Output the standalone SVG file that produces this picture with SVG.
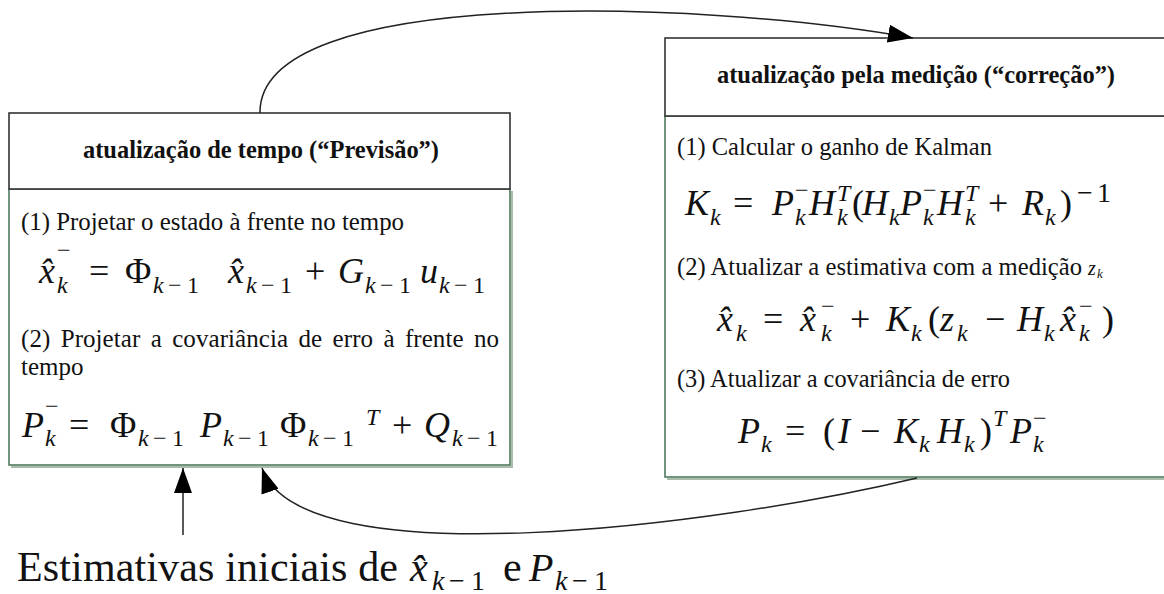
<svg xmlns="http://www.w3.org/2000/svg" width="1164" height="594" viewBox="0 0 1164 594">
<defs>
<style>
.t{font-family:"Liberation Serif","Times New Roman",serif;font-size:25px;fill:#111}
.h{font-weight:bold;font-size:26px}
.m{font-family:"Liberation Serif","Times New Roman",serif;font-size:36px;font-style:italic;fill:#111}
.r{font-style:normal}
.s{font-size:24px}
.hd{fill:#fff;stroke:#333;stroke-width:1.6}
.bd{fill:#fff;stroke:#4f7a5c;stroke-width:1.6}
.sh{fill:none;stroke:#a9bcad;stroke-width:2}
.c{fill:none;stroke:#222;stroke-width:1.5}
</style>
<marker id="ah" markerUnits="userSpaceOnUse" markerWidth="26" markerHeight="18" refX="25" refY="9" orient="auto">
<path d="M0,0 L25,9 L0,18 z" fill="#000"/>
</marker>
</defs>
<rect width="1164" height="594" fill="#fff"/>

<g id="node-previsao">
<path class="sh" d="M11,467 H512 V191"/>
<rect class="bd" x="9" y="189" width="501" height="276"/>
<rect class="hd" x="9" y="113" width="501" height="76"/>
<text class="t h" x="83" y="158" textLength="356" lengthAdjust="spacingAndGlyphs">atualização de tempo (“Previsão”)</text>
<text class="t" x="21" y="230" textLength="383" lengthAdjust="spacingAndGlyphs">(1) Projetar o estado à frente no tempo</text>
<text class="m">
<tspan x="39" y="283">x̂</tspan><tspan class="r s" x="57" y="258">−</tspan><tspan class="s" x="57" y="293">k</tspan>
<tspan class="r" x="89" y="283">=</tspan>
<tspan class="r" x="125" y="283">Φ</tspan><tspan class="s" x="153 168 187" y="293">k<tspan class="r">−1</tspan></tspan>
<tspan x="228" y="283">x̂</tspan><tspan class="s" x="246 261 280" y="293">k<tspan class="r">−1</tspan></tspan>
<tspan class="r" x="305" y="283">+</tspan>
<tspan x="338" y="283">G</tspan><tspan class="s" x="365 380 399" y="293">k<tspan class="r">−1</tspan></tspan>
<tspan x="420" y="283">u</tspan><tspan class="s" x="439 454 473" y="293">k<tspan class="r">−1</tspan></tspan>
</text>
<text class="t" x="21" y="347" textLength="478" lengthAdjust="spacing" style="word-spacing:4px">(2) Projetar a covariância de erro à frente no</text>
<text class="t" x="21" y="375">tempo</text>
<text class="m">
<tspan x="22" y="437">P</tspan><tspan class="r s" x="45" y="414">−</tspan><tspan class="s" x="45" y="446">k</tspan>
<tspan class="r" x="69" y="437">=</tspan>
<tspan class="r" x="110" y="437">Φ</tspan><tspan class="s" x="138 153 172" y="446">k<tspan class="r">−1</tspan></tspan>
<tspan x="200" y="437">P</tspan><tspan class="s" x="223 238 257" y="446">k<tspan class="r">−1</tspan></tspan>
<tspan class="r" x="280" y="437">Φ</tspan><tspan class="s" x="308 323 342" y="446">k<tspan class="r">−1</tspan></tspan>
<tspan class="s" x="366" y="425">T</tspan>
<tspan class="r" x="392" y="437">+</tspan>
<tspan x="424" y="437">Q</tspan><tspan class="s" x="452 467 486" y="446">k<tspan class="r">−1</tspan></tspan>
</text>
</g>

<g id="node-correcao">
<path class="sh" d="M667,479 H1164"/>
<rect class="bd" x="665" y="116" width="520" height="361"/>
<rect class="hd" x="665" y="38" width="520" height="78"/>
<text class="t h" x="717" y="83" textLength="398" lengthAdjust="spacingAndGlyphs">atualização pela medição (“correção”)</text>
<text class="t" x="677" y="155" textLength="315" lengthAdjust="spacingAndGlyphs">(1) Calcular o ganho de Kalman</text>
<text class="m">
<tspan x="685" y="215">K</tspan><tspan class="s" x="710" y="225">k</tspan>
<tspan class="r" x="733" y="215">=</tspan>
<tspan x="772" y="215">P</tspan><tspan class="r s" x="795" y="198">−</tspan><tspan class="s" x="795" y="225">k</tspan>
<tspan x="809" y="215">H</tspan><tspan class="s" x="837" y="201">T</tspan><tspan class="s" x="837" y="225">k</tspan>
<tspan class="r" x="852" y="215">(</tspan>
<tspan x="862" y="215">H</tspan><tspan class="s" x="889" y="225">k</tspan>
<tspan x="900" y="215">P</tspan><tspan class="r s" x="923" y="198">−</tspan><tspan class="s" x="923" y="225">k</tspan>
<tspan x="937" y="215">H</tspan><tspan class="s" x="965" y="201">T</tspan><tspan class="s" x="965" y="225">k</tspan>
<tspan class="r" x="988" y="215">+</tspan>
<tspan x="1022" y="215">R</tspan><tspan class="s" x="1045" y="225">k</tspan>
<tspan class="r" x="1060" y="215">)</tspan>
<tspan class="r" style="font-size:28px" x="1077 1097" y="202">−1</tspan>
</text>
<text class="t" x="677" y="275" textLength="405" lengthAdjust="spacingAndGlyphs">(2) Atualizar a estimativa com a medição</text>
<text class="t" style="font-style:italic"><tspan x="1088" y="275" style="font-size:20px">z</tspan><tspan x="1097" y="278" style="font-size:13px">k</tspan></text>
<text class="m">
<tspan x="717" y="331">x̂</tspan><tspan class="s" x="736" y="341">k</tspan>
<tspan class="r" x="763" y="331">=</tspan>
<tspan x="800" y="331">x̂</tspan><tspan class="r s" x="821" y="314">−</tspan><tspan class="s" x="821" y="341">k</tspan>
<tspan class="r" x="850" y="331">+</tspan>
<tspan x="886" y="331">K</tspan><tspan class="s" x="911" y="341">k</tspan>
<tspan class="r" x="928" y="331">(</tspan>
<tspan x="940" y="331">z</tspan><tspan class="s" x="957" y="341">k</tspan>
<tspan class="r" x="985" y="331">−</tspan>
<tspan x="1017" y="331">H</tspan><tspan class="s" x="1044" y="341">k</tspan>
<tspan x="1060" y="331">x̂</tspan><tspan class="r s" x="1079" y="314">−</tspan><tspan class="s" x="1079" y="341">k</tspan>
<tspan class="r" x="1102" y="331">)</tspan>
</text>
<text class="t" x="677" y="387" textLength="333" lengthAdjust="spacingAndGlyphs">(3) Atualizar a covariância de erro</text>
<text class="m">
<tspan x="738" y="443">P</tspan><tspan class="s" x="761" y="452">k</tspan>
<tspan class="r" x="785" y="443">=</tspan>
<tspan class="r" x="823" y="443">(</tspan>
<tspan x="838" y="443">I</tspan>
<tspan class="r" x="860" y="443">−</tspan>
<tspan x="894" y="443">K</tspan><tspan class="s" x="919" y="452">k</tspan>
<tspan x="937" y="443">H</tspan><tspan class="s" x="964" y="452">k</tspan>
<tspan class="r" x="980" y="443">)</tspan>
<tspan class="s" x="993" y="426">T</tspan>
<tspan x="1010" y="443">P</tspan><tspan class="r s" x="1033" y="426">−</tspan><tspan class="s" x="1033" y="452">k</tspan>
</text>
</g>

<g id="node-estimativas">
<text class="t" x="17" y="581" style="font-size:42px" textLength="381" lengthAdjust="spacing">Estimativas iniciais de</text>
<text class="m" style="font-size:40px">
<tspan x="410" y="581">x̂</tspan><tspan style="font-size:28px" x="432 449 471" y="590">k<tspan class="r">−1</tspan></tspan>
<tspan class="r" x="503" y="581" style="font-size:42px">e</tspan>
<tspan x="529" y="581">P</tspan><tspan style="font-size:28px" x="555 572 594" y="590">k<tspan class="r">−1</tspan></tspan>
</text>
</g>

<g id="connectors">
<path class="c" d="M260,113 C258,-15 700,0 913,38" marker-end="url(#ah)"/>
<path class="c" d="M917,478 C720,525 300,580 262,468" marker-end="url(#ah)"/>
<path class="c" d="M183,535 V468" marker-end="url(#ah)"/>
</g>
</svg>
